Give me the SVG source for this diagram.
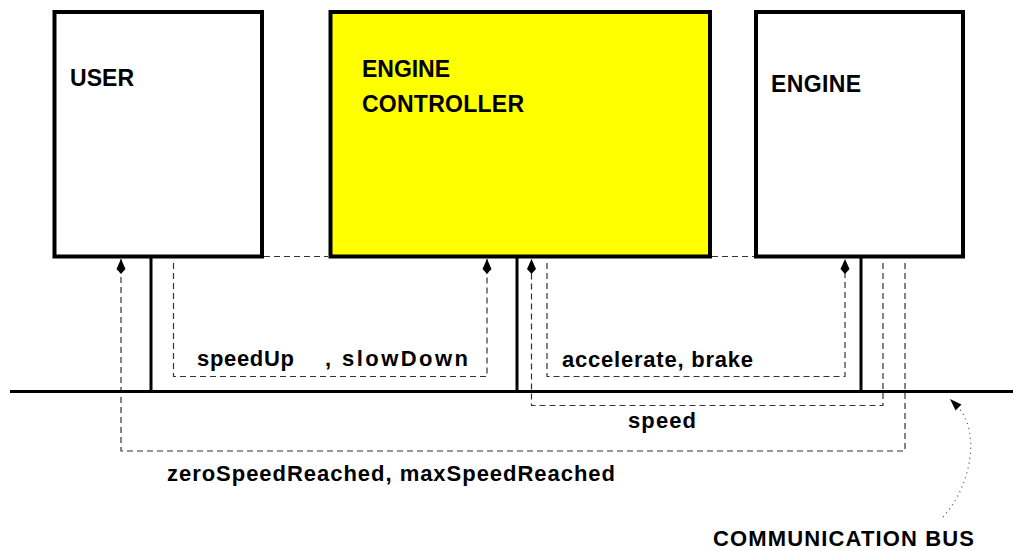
<svg xmlns="http://www.w3.org/2000/svg" width="1013" height="551" viewBox="0 0 1013 551">
  <style>
    .box { fill: #ffffff; stroke: #000000; stroke-width: 4; }
    .ctrl { fill: #ffff00; stroke: #000000; stroke-width: 4; }
    .solid { fill: none; stroke: #000000; stroke-width: 3; }
    .dash { fill: none; stroke: #333333; stroke-width: 1.2; stroke-dasharray: 6 4; }
    .dot { fill: none; stroke: #555555; stroke-width: 1.3; stroke-dasharray: 1 4; }
    .nlabel { font-family: "Liberation Sans", Arial, sans-serif; font-weight: bold; font-size: 23px; fill: #000000; }
    .elabel { font-family: "Liberation Sans", Arial, sans-serif; font-weight: bold; font-size: 22px; fill: #000000; }
  </style>
  <defs>
    <marker id="arr" viewBox="0 -5 16 10" refX="15" refY="0" markerWidth="16" markerHeight="10" markerUnits="userSpaceOnUse" orient="auto" overflow="visible">
      <path d="M15,0 L5,-4.5 L0,0 L5,4.5 Z" fill="#000000"/>
    </marker>
  </defs>
  <rect width="1013" height="551" fill="#ffffff"/>

  <g id="connectors">
    <!-- dashed joins between boxes -->
    <line class="dash" x1="264" y1="256.5" x2="328" y2="256.5"/>
    <line class="dash" x1="712" y1="256.5" x2="754" y2="256.5"/>
    <!-- solid drops to the bus -->
    <line class="solid" x1="151" y1="257" x2="151" y2="391.5"/>
    <line class="solid" x1="517" y1="257" x2="517" y2="391.5"/>
    <line class="solid" x1="861" y1="257" x2="861" y2="391.5"/>
    <!-- speedUp, slowDown -->
    <path class="dash" d="M173.5,263 V376.5 H487 V259" marker-end="url(#arr)"/>
    <!-- accelerate, brake -->
    <path class="dash" d="M547,263 V376.5 H845 V259" marker-end="url(#arr)"/>
    <!-- speed -->
    <path class="dash" d="M883,263 V405.5 H531.5 V259" marker-end="url(#arr)"/>
    <!-- zeroSpeedReached, maxSpeedReached -->
    <path class="dash" d="M905,263 V451 H121 V259" marker-end="url(#arr)"/>
    <!-- communication bus pointer -->
    <path class="dot" d="M943,517 C972,485 980,432 958.5,407.5"/>
    <polygon points="950,399 961.5,404.5 955.5,410.5" fill="#000000"/>

    <text class="elabel" x="197" y="366" textLength="97" lengthAdjust="spacing">speedUp</text>
    <text class="elabel" x="325" y="366" textLength="143" lengthAdjust="spacing">, slowDown</text>
    <text class="elabel" x="562" y="367" textLength="191" lengthAdjust="spacing">accelerate, brake</text>
    <text class="elabel" x="628" y="428" textLength="68" lengthAdjust="spacing">speed</text>
    <text class="elabel" x="167" y="481" textLength="448" lengthAdjust="spacing">zeroSpeedReached, maxSpeedReached</text>
  </g>

  <g id="bus">
    <line class="solid" x1="10" y1="391.5" x2="1013" y2="391.5"/>
    <text class="elabel" x="713" y="546" textLength="261" lengthAdjust="spacing">COMMUNICATION BUS</text>
  </g>

  <g id="user">
    <rect class="box" x="54.5" y="12" width="207.5" height="244.5"/>
    <text class="nlabel" x="70" y="86" textLength="64" lengthAdjust="spacing">USER</text>
  </g>

  <g id="engine-controller">
    <rect class="ctrl" x="330.5" y="12" width="379.5" height="244.5"/>
    <text class="nlabel" x="362" y="77" textLength="88" lengthAdjust="spacing">ENGINE</text>
    <text class="nlabel" x="362" y="112" textLength="162" lengthAdjust="spacing">CONTROLLER</text>
  </g>

  <g id="engine">
    <rect class="box" x="756" y="12" width="207" height="244.5"/>
    <text class="nlabel" x="771" y="92" textLength="90" lengthAdjust="spacing">ENGINE</text>
  </g>
</svg>
